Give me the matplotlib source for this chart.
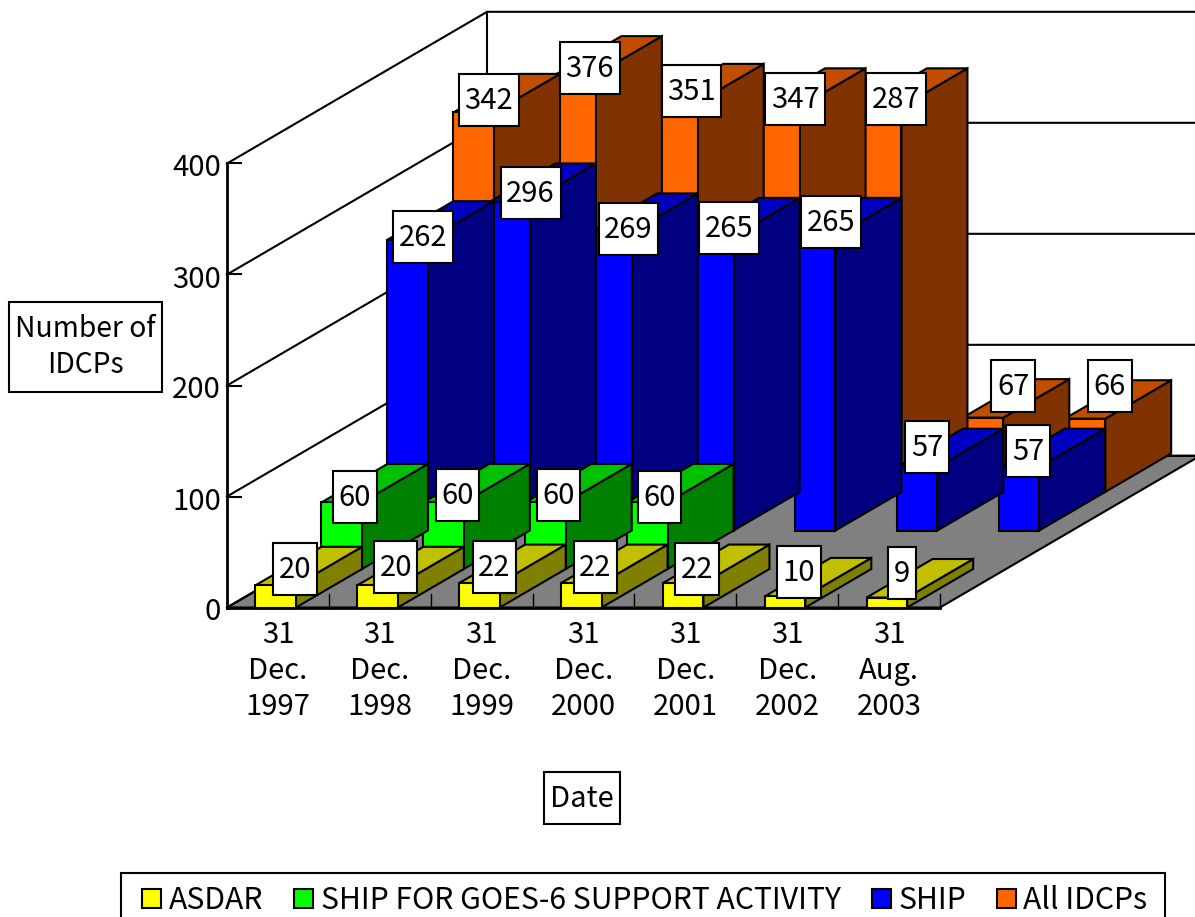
import matplotlib
matplotlib.use('Agg')
import matplotlib.pyplot as plt
from matplotlib.patches import Patch, Rectangle

plt.rcParams['font.family'] = ['Noto Sans CJK JP', 'DejaVu Sans']

# data
dates = ['31\nDec.\n1997', '31\nDec.\n1998', '31\nDec.\n1999', '31\nDec.\n2000',
         '31\nDec.\n2001', '31\nDec.\n2002', '31\nAug.\n2003']
y_ticks = [0, 100, 200, 300, 400]
asdar = [20, 20, 22, 22, 22, 10, 9]
goes6 = [60, 60, 60, 60, None, None, None]
ship = [262, 296, 269, 265, 265, 57, 57]
# the 2001 bar is drawn as tall as 2000 although its label says 287
all_idcps = [342, 376, 351, 347, 347, 67, 66]
all_idcps_labels = [342, 376, 351, 347, 287, 67, 66]

series_names = ['ASDAR', 'SHIP FOR GOES-6 SUPPORT ACTIVITY', 'SHIP', 'All IDCPs']
series_values = [asdar, goes6, ship, all_idcps]
series_labels = [asdar, goes6, ship, all_idcps_labels]

# front, top, side colours
colours = [('#ffff00', '#c0c000', '#808000'),
           ('#00ff00', '#00c000', '#008000'),
           ('#0000ff', '#0000c0', '#000080'),
           ('#ff6600', '#c04d00', '#803300')]

# where each value box sits relative to the top of the front face
label_dx = [[19, 18, 15, 14, 14, 14, 15],
            [13, 14, 13, 12, 0, 0, 0],
            [15, 21, 17, 16, 16, 10, 9],
            [15, 14, 14, 16, 15, 30, 25]]
label_dy = [[-16, -18, -16, -16, -14, -24, -25],
            [-5, -7, -7, -5, 0, 0, 0],
            [-3, -9, -3, -8, -14, -20, -16],
            [-12, -7, -11, -8, -8, -32, -33]]

# oblique projection of the chart, in pixels
X0, Y0 = 227, 607.5
CAT_W = 101.86
BAR_W = 40.5
BAR_OFF = 28.5
PER_UNIT = 1.11
STEP_X = 66
STEP_Y = -38.5
WALL_DEPTH = 3.94
BLACK_LW = 1.5
FS = 21
LEGEND_FS = 21.7


def project(cat, depth, value=0):
    # cat in category widths, depth in series rows from the front, value in IDCPs
    return (X0 + cat * CAT_W + depth * STEP_X,
            Y0 + depth * STEP_Y - value * PER_UNIT)


fig = plt.figure(figsize=(11.95, 9.17), dpi=100)
ax = fig.add_axes([0, 0, 1, 1])
ax.set_xlim(0, 1195)
ax.set_ylim(917, 0)
ax.axis('off')

n_cat = len(dates)

# floor
floor = [project(0, 0), project(n_cat, 0), project(n_cat, WALL_DEPTH), project(0, WALL_DEPTH)]
ax.fill(*zip(*floor), facecolor='#808080', edgecolor='black', linewidth=BLACK_LW, zorder=1)

# walls and grid lines
for v in y_ticks:
    a = project(0, 0, v)
    b = project(0, WALL_DEPTH, v)
    c = project(n_cat, WALL_DEPTH, v)
    ax.plot([a[0], b[0], c[0]], [a[1], b[1], c[1]], color='black', lw=BLACK_LW, zorder=1)
    ax.plot([a[0], a[0] + 14], [a[1], a[1]], color='black', lw=BLACK_LW, zorder=1)
    ax.text(a[0] - 6, a[1] + 5, str(v), ha='right', va='center', fontsize=FS, zorder=5)
left_bottom, left_top = project(0, 0), project(0, 0, 400)
ax.plot([left_bottom[0], left_top[0]], [left_bottom[1], left_top[1]], color='black', lw=2, zorder=1)
back_bottom, back_top = project(0, WALL_DEPTH), project(0, WALL_DEPTH, 400)
ax.plot([back_bottom[0], back_top[0]], [back_bottom[1], back_top[1]], color='black', lw=BLACK_LW, zorder=1)
ax.plot([X0, project(n_cat, 0)[0]], [Y0, Y0], color='black', lw=2, zorder=1)

# category ticks on the floor
for i in range(1, n_cat + 1):
    p = project(i, 0)
    ax.plot([p[0], p[0]], [p[1], p[1] - 14], color='black', lw=1, zorder=1)

# bars: back series first, right to left so the side faces overlap properly
z = 2
for s in range(3, -1, -1):
    front_c, top_c, side_c = colours[s]
    for i in range(n_cat - 1, -1, -1):
        v = series_values[s][i]
        if v is None:
            continue
        dx = BAR_OFF / CAT_W
        w = BAR_W / CAT_W
        fl, fr = i + dx, i + dx + w
        front = [project(fl, s, 0), project(fr, s, 0), project(fr, s, v), project(fl, s, v)]
        top = [project(fl, s, v), project(fr, s, v), project(fr, s + 1, v), project(fl, s + 1, v)]
        side = [project(fr, s, 0), project(fr, s + 1, 0), project(fr, s + 1, v), project(fr, s, v)]
        for poly, col in ((side, side_c), (top, top_c), (front, front_c)):
            ax.fill(*zip(*poly), facecolor=col, edgecolor='black', linewidth=BLACK_LW,
                    joinstyle='miter', zorder=z)
        z += 0.01

# value boxes go above every bar
for s in range(4):
    for i in range(n_cat):
        v = series_values[s][i]
        if v is None:
            continue
        txt = str(series_labels[s][i])
        px, py = project(i + (BAR_OFF + BAR_W / 2) / CAT_W, s, v)
        cx = px + label_dx[s][i]
        cy = py + label_dy[s][i]
        bw = 11 + 16.3 * len(txt)
        ax.add_patch(Rectangle((cx - bw / 2, cy - 26), bw, 52, facecolor='white',
                               edgecolor='black', linewidth=BLACK_LW, zorder=10))
        ax.text(cx, cy + 1, txt, ha='center', va='center', fontsize=FS, zorder=11)

# date labels
for i, d in enumerate(dates):
    p = project(i + 0.5, 0)
    ax.text(p[0], 671, d, ha='center', va='center', fontsize=FS, linespacing=1.27, zorder=5)

# axis titles in boxes
ax.add_patch(Rectangle((9, 302), 153, 90, facecolor='white', edgecolor='black', linewidth=BLACK_LW, zorder=5))
ax.text(85.5, 347, 'Number of\nIDCPs', ha='center', va='center', fontsize=20.3, linespacing=1.3, zorder=6)
ax.add_patch(Rectangle((544, 772), 76, 52, facecolor='white', edgecolor='black', linewidth=BLACK_LW, zorder=5))
ax.text(582, 799, 'Date', ha='center', va='center', fontsize=FS, zorder=6)

# legend along the bottom, its lower edge runs off the figure
ax.add_patch(Rectangle((121, 873), 1044, 60, facecolor='white', edgecolor='black', linewidth=BLACK_LW, zorder=5))
handles = [Patch(facecolor=colours[k][0], edgecolor='black', linewidth=BLACK_LW) for k in range(4)]
leg = ax.legend(handles, series_names, ncol=4, loc='upper left',
                bbox_to_anchor=(136 / 1195, 1 - 879 / 917), borderaxespad=0,
                fontsize=LEGEND_FS, frameon=False,
                handlelength=0.63, handleheight=0.63, handletextpad=0.25,
                columnspacing=1.03, borderpad=0.2)
leg.set_zorder(20)

fig.savefig('out.png', dpi=100)
